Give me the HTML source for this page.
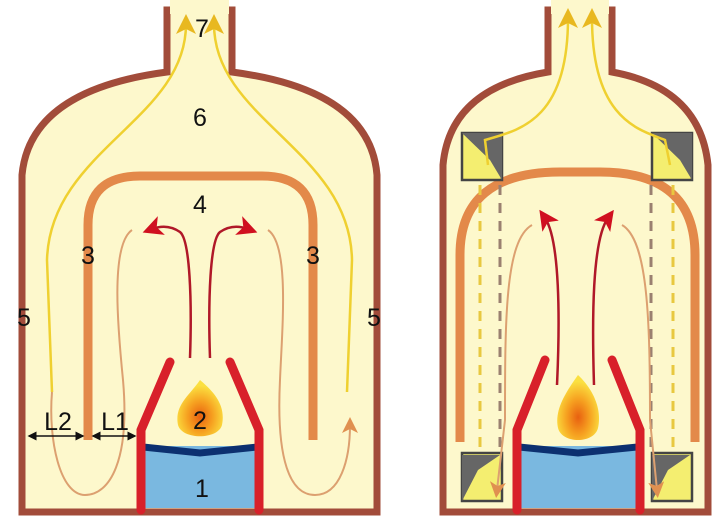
<html><body style="margin:0;background:#fff">
<svg width="720" height="526" viewBox="0 0 720 526" xmlns="http://www.w3.org/2000/svg" style="font-family:'Liberation Sans',sans-serif">
<defs>
<marker id="ay" markerWidth="8" markerHeight="8" refX="4" refY="4" orient="auto-start-reverse"><path d="M0,0 L8,4 L0,8 L2,4z" fill="#e8b820"/></marker>
<marker id="ar" markerWidth="8" markerHeight="8" refX="4" refY="4" orient="auto"><path d="M0,0 L8,4 L0,8 L2,4z" fill="#d01020"/></marker>
<marker id="at" markerWidth="8" markerHeight="8" refX="4" refY="4" orient="auto"><path d="M0,0 L8,4 L0,8 L2,4z" fill="#e09050"/></marker>
<marker id="ak" markerWidth="6" markerHeight="6" refX="5" refY="3" orient="auto-start-reverse"><path d="M0,0 L6,3 L0,6z" fill="#111"/></marker>
<radialGradient id="fl" cx="50%" cy="65%" r="55%"><stop offset="0" stop-color="#e86010"/><stop offset="0.5" stop-color="#f6a020"/><stop offset="1" stop-color="#fbe040"/></radialGradient>
</defs>
<!-- LEFT -->
<path d="M22,512 L22,175 Q30,90 167,72 L167,10 L232,10 L232,72 Q370,90 377,175 L377,512 Z" fill="#fdf8cc" stroke="#a24c3a" stroke-width="7"/>
<rect x="170" y="0" width="59" height="14" fill="#fdf8cc"/>
<path d="M88,440 L88,225 Q88,176 140,176 L262,176 Q313,176 313,225 L313,440" fill="none" stroke="#e3894a" stroke-width="9"/>
<path d="M186,24 C186,120 50,150 47,260 L52,392" fill="none" stroke="#efd030" stroke-width="2.5" marker-start="url(#ay)"/>
<path d="M214,24 C214,120 350,150 352,260 L347,392" fill="none" stroke="#efd030" stroke-width="2.5" marker-start="url(#ay)"/>
<path d="M132,230 C110,245 118,330 123,380 C130,460 110,495 85,495 C60,495 48,440 52,392" fill="none" stroke="#dca070" stroke-width="2"/>
<path d="M268,230 C290,245 282,330 280,380 C276,460 290,495 315,495 C340,495 350,460 350,425" fill="none" stroke="#dca070" stroke-width="2" marker-end="url(#at)"/>
<path d="M190,358 C192,300 190,240 180,232 C170,225 160,226 152,229" fill="none" stroke="#b01828" stroke-width="2.5" marker-end="url(#ar)"/>
<path d="M210,358 C208,300 210,240 220,232 C230,225 240,226 248,229" fill="none" stroke="#b01828" stroke-width="2.5" marker-end="url(#ar)"/>
<rect x="143" y="446" width="114" height="62" fill="#7ab8e0"/>
<path d="M143,447 L200,453 L257,447" fill="none" stroke="#0c3070" stroke-width="7"/>
<path d="M141,510 L141,430 L170,362" fill="none" stroke="#d8202a" stroke-width="9" stroke-linecap="round"/>
<path d="M259,510 L259,430 L230,362" fill="none" stroke="#d8202a" stroke-width="9" stroke-linecap="round"/>
<path d="M200,380 C214,392 226,405 222,425 C218,440 182,440 178,425 C174,405 190,395 200,380Z" fill="url(#fl)"/>
<line x1="29" y1="436" x2="83" y2="436" stroke="#111" stroke-width="1.5" marker-start="url(#ak)" marker-end="url(#ak)"/>
<line x1="93" y1="436" x2="135" y2="436" stroke="#111" stroke-width="1.5" marker-start="url(#ak)" marker-end="url(#ak)"/>
<g font-size="25" fill="#111" text-anchor="middle">
<text x="202" y="497">1</text><text x="200" y="429">2</text><text x="88" y="264">3</text><text x="313" y="264">3</text>
<text x="200" y="213">4</text><text x="24" y="326">5</text><text x="374" y="326">5</text><text x="200" y="126">6</text><text x="202" y="37">7</text>
<text x="58" y="430">L2</text><text x="115" y="430">L1</text></g>
<!-- RIGHT -->
<path d="M443,512 L443,165 Q450,88 548,72 L548,10 L612,10 L612,72 Q700,88 708,165 L708,512 Z" fill="#fdf8cc" stroke="#a24c3a" stroke-width="7"/>
<rect x="551" y="0" width="58" height="14" fill="#fdf8cc"/>
<path d="M460,442 L460,255 Q460,172 560,172 L600,172 Q695,172 695,255 L695,442" fill="none" stroke="#e3894a" stroke-width="9"/>
<g stroke-width="2.5" fill="#f4ee70" stroke="#444">
<rect x="462" y="133" width="40" height="47"/><rect x="652" y="133" width="40" height="47"/>
<rect x="462" y="453" width="40" height="48"/><rect x="652" y="453" width="40" height="48"/></g>
<g fill="#666"><path d="M462,133 L502,133 L502,180 L490,160Z"/><path d="M652,133 L692,133 L692,180 L680,160Z"/>
<path d="M462,501 L462,455 L500,455 L478,470Z"/><path d="M652,501 L652,455 L690,455 L668,470Z"/></g>
<g stroke-dasharray="10,8" stroke-width="3" fill="none">
<line x1="480" y1="185" x2="480" y2="450" stroke="#e8c840"/><line x1="500" y1="185" x2="500" y2="450" stroke="#9a8070"/>
<line x1="651" y1="185" x2="651" y2="450" stroke="#9a8070"/><line x1="673" y1="185" x2="673" y2="450" stroke="#e8c840"/></g>
<path d="M568,18 C568,120 520,130 485,140 L488,165" fill="none" stroke="#efd030" stroke-width="2.5" marker-start="url(#ay)"/>
<path d="M592,18 C592,120 640,130 665,140 L670,165" fill="none" stroke="#efd030" stroke-width="2.5" marker-start="url(#ay)"/>
<path d="M532,225 C505,240 505,320 505,420 L497,490" fill="none" stroke="#dca070" stroke-width="2" marker-end="url(#at)"/>
<path d="M622,225 C648,240 650,320 650,420 L657,490" fill="none" stroke="#dca070" stroke-width="2" marker-end="url(#at)"/>
<path d="M557,385 C560,320 560,240 545,218" fill="none" stroke="#b01828" stroke-width="2.5" marker-end="url(#ar)"/>
<path d="M594,385 C592,320 592,240 608,218" fill="none" stroke="#b01828" stroke-width="2.5" marker-end="url(#ar)"/>
<rect x="519" y="446" width="118" height="62" fill="#7ab8e0"/>
<path d="M519,447 L578,453 L637,447" fill="none" stroke="#0c3070" stroke-width="7"/>
<path d="M517,510 L517,430 L545,360" fill="none" stroke="#d8202a" stroke-width="9" stroke-linecap="round"/>
<path d="M640,510 L640,430 L612,360" fill="none" stroke="#d8202a" stroke-width="9" stroke-linecap="round"/>
<path d="M578,375 C594,390 602,410 598,428 C594,444 562,444 558,428 C554,410 566,392 578,375Z" fill="url(#fl)"/>
</svg>
</body></html>
